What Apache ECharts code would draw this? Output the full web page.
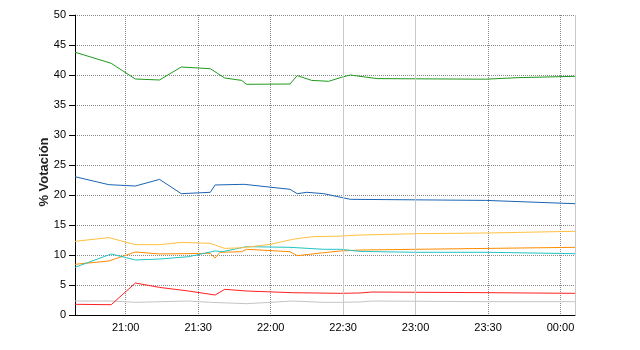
<!DOCTYPE html>
<html>
<head>
<meta charset="utf-8">
<script src="https://cdn.jsdelivr.net/npm/echarts@6/dist/echarts.min.js"></script>
<style>html,body{margin:0;padding:0;background:#fff;}#c{width:640px;height:350px;}</style>
</head>
<body>
<div id="c"></div>
<script>
// Data: [time, % vote]
const greenData = [['20:39',43.8],['20:54',41.95],['21:04',39.33],['21:14',39.17],['21:23',41.33],['21:35',41.05],['21:41',39.5],['21:48',39.1],['21:50',38.45],['22:08',38.5],['22:11',39.9],['22:17',39.1],['22:24',38.95],['22:30',39.7],['22:33',40.0],['22:44',39.4],['23:29',39.3],['23:42',39.55],['00:06',39.78]];
const blueData = [['20:39',23.05],['20:53',21.72],['21:04',21.5],['21:14',22.6],['21:23',20.22],['21:35',20.45],['21:37',21.67],['21:49',21.78],['22:08',20.95],['22:11',20.22],['22:15',20.45],['22:22',20.22],['22:33',19.28],['23:29',19.1],['00:06',18.55]];
const yellowData = [['20:39',12.28],['20:53',12.9],['21:04',11.72],['21:14',11.72],['21:23',12.1],['21:35',11.94],['21:41',11.1],['21:48',11.2],['22:00',11.78],['22:09',12.6],['22:17',13.05],['22:29',13.15],['22:37',13.33],['23:00',13.55],['23:30',13.67],['00:06',13.95]];
const cyanData = [['20:39',7.95],['20:54',10.17],['21:04',9.17],['21:14',9.33],['21:26',9.72],['21:37',10.67],['21:40',10.55],['21:50',11.39],['22:08',11.28],['22:22',10.95],['22:29',10.95],['22:37',10.6],['23:00',10.45],['23:30',10.45],['00:06',10.22]];
const orangeData = [['20:39',8.45],['20:53',9.0],['21:04',10.5],['21:14',10.17],['21:35',10.28],['21:37',9.5],['21:39',10.45],['21:48',10.55],['21:50',10.95],['22:08',10.55],['22:11',9.89],['22:22',10.39],['22:29',10.67],['22:37',10.83],['23:00',10.95],['23:30',11.1],['00:06',11.28]];
const redData = [['20:39',1.78],['20:54',1.72],['21:04',5.33],['21:14',4.6],['21:26',4.0],['21:37',3.33],['21:41',4.28],['21:50',4.0],['22:09',3.72],['22:29',3.61],['22:37',3.67],['22:42',3.83],['23:30',3.72],['00:06',3.61]];
const grayData = [['20:39',2.33],['20:54',2.33],['21:04',2.11],['21:26',2.33],['21:35',2.11],['21:50',1.89],['22:00',2.11],['22:09',2.33],['22:22',2.11],['22:29',2.11],['22:37',2.17],['22:42',2.33],['23:30',2.22],['00:06',2.22]];
const xTickLabels = ['21:00','21:30','22:00','22:30','23:00','23:30','00:00'];
const solidLinesAt = ['22:30','23:00','00:06'];
const xMin = '20:39', xMax = '00:06';

// minutes since 20:00
function t(s){
  let [h,m] = s.split(':').map(Number);
  if (h < 12) h += 24;
  return (h-20)*60 + m;
}
function conv(arr){ return arr.map(p => [t(p[0]), p[1]]); }
function pad(n){ return (n<10?'0':'')+n; }
const xTickVals = xTickLabels.map(t);

const FONT = 'Liberation Sans, Arial, sans-serif';
function line(name, color, data, extra){
  return Object.assign({
    name, type:'line', data: conv(data), symbol:'none', showSymbol:false,
    lineStyle:{color, width:1}, itemStyle:{color}, silent:true, z:3
  }, extra||{});
}

const chart = echarts.init(document.getElementById('c'), null, {renderer:'canvas'});
chart.setOption({
  animation:false,
  backgroundColor:'#fff',
  grid:{left:75, right:65, top:15, bottom:35, containLabel:false},
  xAxis:{
    type:'value', min:t(xMin), max:t(xMax),
    axisLine:{show:true, lineStyle:{color:'#000', width:1}},
    axisTick:{show:false, customValues:xTickVals},
    axisLabel:{color:'#000', fontSize:11, fontFamily:FONT, margin:7, customValues:xTickVals,
      formatter:function(v){ const h=(20+Math.floor(v/60))%24, m=v%60; return pad(h)+':'+pad(m); }},
    splitLine:{show:true, lineStyle:{color:'#888', type:[1,1], width:1}}
  },
  yAxis:{
    type:'value', min:0, max:50, interval:5,
    name:'% Votación', nameLocation:'middle', nameGap:24, nameRotate:90, nameMoveOverlap:false,
    nameTextStyle:{color:'#222', fontSize:13, fontWeight:'bold', fontFamily:FONT, padding:[0,14,0,0]},
    axisLine:{show:true, lineStyle:{color:'#000', width:1}},
    axisTick:{show:true, length:6, lineStyle:{color:'#000'}},
    axisLabel:{color:'#000', fontSize:11, fontFamily:FONT, margin:9},
    splitLine:{show:true, lineStyle:{color:'#888', type:[1,1], width:1}}
  },
  series:[
    line('gray','#c4c4c4',grayData,{
      markLine:{silent:true, symbol:['none','none'], label:{show:false},
        lineStyle:{color:'#c8c8c8', type:'solid', width:1},
        data: solidLinesAt.map(s=>({xAxis:t(s)}))}
    }),
    line('red','#ff2020',redData),
    line('orange','#ff8c00',orangeData),
    line('cyan','#20c4c4',cyanData),
    line('yellow','#ffc040',yellowData),
    line('blue','#1a64b4',blueData),
    line('green','#1e9a1e',greenData)
  ]
});
</script>
</body>
</html>
